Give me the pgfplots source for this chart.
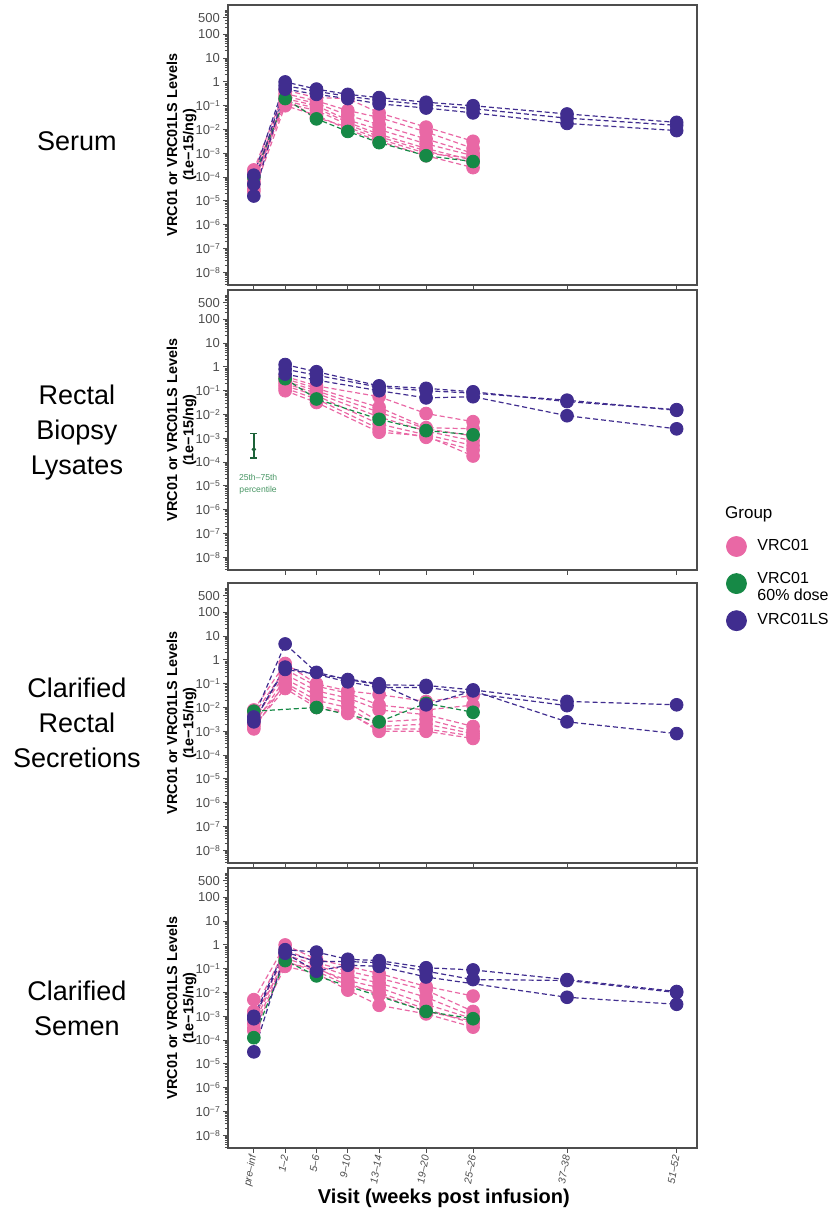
\documentclass[border=0pt]{standalone}
\usepackage{fontspec}
\setmainfont{Liberation Sans}
\usepackage{pgfplots}
\pgfplotsset{compat=1.18}
\usepackage{pgfplotstable}

\definecolor{vpink}{RGB}{233,104,165}
\definecolor{vgreen}{RGB}{22,137,70}
\definecolor{vpurple}{RGB}{64,45,143}
\definecolor{errgreen}{RGB}{28,98,56}
\definecolor{notegreen}{RGB}{72,150,100}
\definecolor{axisgrey}{RGB}{77,77,77}

\newcommand\tp[1]{10\raisebox{0.55ex}{\fontsize{4.3}{5}\selectfont −#1}}

% serum
\pgfplotstableread{
x     k1      k2      k3      k4      k5      k6      k7      k8      gr      p1      p2      p3
-2.5  2.0e-4  1.0e-4  5.0e-5  3.2e-5  1.6e-4  6.3e-5  2.5e-5  7.9e-5  1.0e-4  1.2e-4  5.0e-5  1.6e-5
1.5   0.45    0.32    0.25    0.2     0.16    0.126   0.1     0.18    0.2     1.0     0.7     0.5
5.5   0.22    0.16    0.126   0.1     0.079   0.063   0.04    0.032   0.028   0.5     0.4     0.3
9.5   0.2     0.063   0.04    0.025   0.02    0.016   0.01    0.0126  0.0083  0.3     0.25    0.2
13.5  0.05    0.032   0.016   0.01    0.0063  0.005   0.0032  0.004   0.0028  0.22    0.17    0.12
19.5  0.0126  0.0079  0.004   0.0025  0.0016  0.00126 0.00079 0.001   0.00079 0.14    0.11    0.08
25.5  0.0032  0.0016  0.001   0.00079 0.0005  0.0004  0.00025 0.00063 0.00045 0.1     0.075   0.05
37.5  nan     nan     nan     nan     nan     nan     nan     nan     nan     0.045   0.03    0.018
51.5  nan     nan     nan     nan     nan     nan     nan     nan     nan     0.02    0.015   0.009
}\serum

% rectal biopsy lysates
\pgfplotstableread{
x     k1      k2      k3      k4      k5      k6      k7      gr      p1      p2      p3
1.5   0.4     0.32    0.25    0.2     0.16    0.126   0.1     0.32    1.26    0.8     0.5
5.5   0.16    0.126   0.1     0.079   0.063   0.045   0.032   0.045   0.63    0.45    0.28
13.5  0.056   0.02    0.0126  0.0079  0.004   0.0025  0.0018  0.0063  0.16    0.14    0.1
19.5  0.011   0.0028  0.0025  0.002   0.0014  0.0011  0.00126 0.0021  0.126   0.1     0.05
25.5  0.005   0.0025  0.00126 0.00079 0.0005  0.00032 0.00018 0.0014  0.09    0.079   0.056
37.5  nan     nan     nan     nan     nan     nan     nan     nan     0.035   0.04    0.0089
51.5  nan     nan     nan     nan     nan     nan     nan     nan     0.016   0.015   0.0025
}\biopsy

% clarified rectal secretions
\pgfplotstableread{
x     k1      k2      k3      k4      k5      k6      k7      gr      p1      p2      p3
-2.5  7.9e-3  5.0e-3  3.2e-3  2.0e-3  1.26e-3 2.5e-3  1.6e-3  7.0e-3  4.0e-3  2.5e-3  3.0e-3
1.5   0.71    0.4     0.25    0.16    0.11    0.089   0.063   nan     4.7     0.5     0.4
5.5   0.1     0.079   0.05    0.032   0.02    0.0126  0.01    0.01    0.3     nan     nan
9.5   0.05    0.04    0.025   0.016   0.01    0.0063  0.0056  nan     0.15    0.12    nan
13.5  0.035   0.0126  0.0079  0.0025  0.0016  0.001   0.00126 0.0025  0.09    0.07    0.1
19.5  0.018   0.0079  0.005   0.0032  0.002   0.001   0.00126 0.015   0.085   0.07    0.013
25.5  0.032   0.0126  0.0016  0.001   0.00079 0.0005  0.00063 0.0063  0.055   nan     0.05
37.5  nan     nan     nan     nan     nan     nan     nan     nan     0.018   0.012   0.0025
51.5  nan     nan     nan     nan     nan     nan     nan     nan     0.013   nan     0.0008
}\secretions

% clarified semen
\pgfplotstableread{
x     k1      k2      k3      k4      k5      k6      k7      gr      p1      p2      p3
-2.5  5.0e-3  1.6e-3  7.9e-4  5.0e-4  3.2e-4  2.5e-4  1.0e-3  1.26e-4 1.0e-3  7.9e-4  3.2e-5
1.5   1.0     0.63    0.4     0.28    0.2     0.126   0.16    0.22    0.63    0.5     0.45
5.5   0.25    0.18    0.14    0.1     0.079   0.063   0.11    0.05    0.5     0.2     0.079
9.5   0.126   0.079   0.05    0.032   0.02    0.0126  0.025   nan     0.25    0.2     0.14
13.5  0.063   0.04    0.025   0.016   0.01    0.0029  0.0079  nan     0.22    0.18    0.126
19.5  0.018   0.0126  0.0063  0.0032  0.002   0.00126 0.0016  0.0016  0.11    0.079   0.045
25.5  0.0071  0.0016  0.001   0.00079 0.0005  0.00035 0.00063 0.00079 0.089   0.035   nan
37.5  nan     nan     nan     nan     nan     nan     nan     nan     0.035   0.032   0.0063
51.5  nan     nan     nan     nan     nan     nan     nan     nan     0.011   0.01    0.0032
}\semen

\begin{document}
\begin{tikzpicture}
\path[use as bounding box] (0,0) rectangle (419pt,-606pt);

% ---------------- Serum
\begin{axis}[at={(114pt,-2.5pt)}, anchor=north west,
  scale only axis, width=234.5pt, height=140pt,
  ymode=log, ymin=2.9e-9, ymax=1713, xmin=-5.8, xmax=54.1,
  ytick={1e-8,1e-7,1e-6,1e-5,1e-4,1e-3,1e-2,1e-1,1,10,100,500},
  yticklabels={\tp8,\tp7,\tp6,\tp5,\tp4,\tp3,\tp2,\tp1,1,10,100,500},
  minor ytick={3e-9,4e-9,5e-9,6e-9,7e-9,8e-9,9e-9,2e-8,3e-8,4e-8,5e-8,6e-8,7e-8,8e-8,9e-8,2e-7,3e-7,4e-7,5e-7,6e-7,7e-7,8e-7,9e-7,2e-6,3e-6,4e-6,5e-6,6e-6,7e-6,8e-6,9e-6,2e-5,3e-5,4e-5,5e-5,6e-5,7e-5,8e-5,9e-5,2e-4,3e-4,4e-4,5e-4,6e-4,7e-4,8e-4,9e-4,2e-3,3e-3,4e-3,5e-3,6e-3,7e-3,8e-3,9e-3,0.02,0.03,0.04,0.05,0.06,0.07,0.08,0.09,0.2,0.3,0.4,0.5,0.6,0.7,0.8,0.9,2,3,4,5,6,7,8,9,20,30,40,50,60,70,80,90,200,300,400,600,700,800,900,1000},
  xtick={-2.5,1.5,5.5,9.5,13.5,19.5,25.5,37.5,51.5}, xticklabels={},
  tick align=outside, tick pos=left, major tick length=2.4pt, minor tick length=1.6pt,
  tick style={axisgrey, line width=0.5pt}, axis line style={axisgrey, line width=0.75pt},
  yticklabel style={font=\fontsize{6.5}{7}\selectfont, text=axisgrey, inner sep=1pt, xshift=-0.5pt},
  ylabel={VRC01 or VRC01LS Levels\\(1e−15/ng)},
  ylabel style={at={(axis description cs:-0.099,0.5)}, anchor=center, align=center, font=\fontsize{7.2}{8.2}\selectfont\bfseries},
  clip=false]
\pgfplotsinvokeforeach{k1,k2,k3,k4,k5,k6,k7,k8}{\addplot[vpink, line width=0.6pt, dash pattern=on 2.5pt off 1.5pt, no marks, forget plot] table[x=x,y=#1]{\serum};}
\addplot[vgreen, line width=0.6pt, dash pattern=on 2.5pt off 1.5pt, no marks, forget plot] table[x=x,y=gr]{\serum};
\pgfplotsinvokeforeach{p1,p2,p3}{\addplot[vpurple, line width=0.6pt, dash pattern=on 2.5pt off 1.5pt, no marks, forget plot] table[x=x,y=#1]{\serum};}
\pgfplotsinvokeforeach{k1,k2,k3,k4,k5,k6,k7,k8}{\addplot[vpink, only marks, mark=*, mark size=3.2pt, forget plot] table[x=x,y=#1]{\serum};}
\addplot[vgreen, only marks, mark=*, mark size=3.2pt, forget plot] table[x=x,y=gr]{\serum};
\pgfplotsinvokeforeach{p1,p2,p3}{\addplot[vpurple, only marks, mark=*, mark size=3.2pt, forget plot] table[x=x,y=#1]{\serum};}
\node[font=\fontsize{13.5}{17.5}\selectfont, align=center] at (axis description cs:-0.322,0.512) {Serum};
\end{axis}

% ---------------- Rectal biopsy lysates
\begin{axis}[at={(114pt,-145pt)}, anchor=north west,
  scale only axis, width=234.5pt, height=140pt,
  ymode=log, ymin=2.9e-9, ymax=1713, xmin=-5.8, xmax=54.1,
  ytick={1e-8,1e-7,1e-6,1e-5,1e-4,1e-3,1e-2,1e-1,1,10,100,500},
  yticklabels={\tp8,\tp7,\tp6,\tp5,\tp4,\tp3,\tp2,\tp1,1,10,100,500},
  minor ytick={3e-9,4e-9,5e-9,6e-9,7e-9,8e-9,9e-9,2e-8,3e-8,4e-8,5e-8,6e-8,7e-8,8e-8,9e-8,2e-7,3e-7,4e-7,5e-7,6e-7,7e-7,8e-7,9e-7,2e-6,3e-6,4e-6,5e-6,6e-6,7e-6,8e-6,9e-6,2e-5,3e-5,4e-5,5e-5,6e-5,7e-5,8e-5,9e-5,2e-4,3e-4,4e-4,5e-4,6e-4,7e-4,8e-4,9e-4,2e-3,3e-3,4e-3,5e-3,6e-3,7e-3,8e-3,9e-3,0.02,0.03,0.04,0.05,0.06,0.07,0.08,0.09,0.2,0.3,0.4,0.5,0.6,0.7,0.8,0.9,2,3,4,5,6,7,8,9,20,30,40,50,60,70,80,90,200,300,400,600,700,800,900,1000},
  xtick={1.5,5.5,13.5,19.5,25.5,37.5,51.5}, xticklabels={},
  tick align=outside, tick pos=left, major tick length=2.4pt, minor tick length=1.6pt,
  tick style={axisgrey, line width=0.5pt}, axis line style={axisgrey, line width=0.75pt},
  yticklabel style={font=\fontsize{6.5}{7}\selectfont, text=axisgrey, inner sep=1pt, xshift=-0.5pt},
  ylabel={VRC01 or VRC01LS Levels\\(1e−15/ng)},
  ylabel style={at={(axis description cs:-0.099,0.5)}, anchor=center, align=center, font=\fontsize{7.2}{8.2}\selectfont\bfseries},
  clip=false,
  legend style={at={(axis description cs:1.062,0.125)}, anchor=north west, draw=none, fill=none,
    inner sep=0pt, row sep=5pt, column sep=3.5pt, font=\fontsize{8}{8.5}\selectfont},
  legend cell align=left]
\pgfplotsinvokeforeach{k1,k2,k3,k4,k5,k6,k7}{\addplot[vpink, line width=0.6pt, dash pattern=on 2.5pt off 1.5pt, no marks, forget plot] table[x=x,y=#1]{\biopsy};}
\addplot[vgreen, line width=0.6pt, dash pattern=on 2.5pt off 1.5pt, no marks, forget plot] table[x=x,y=gr]{\biopsy};
\pgfplotsinvokeforeach{p1,p2,p3}{\addplot[vpurple, line width=0.6pt, dash pattern=on 2.5pt off 1.5pt, no marks, forget plot] table[x=x,y=#1]{\biopsy};}
\pgfplotsinvokeforeach{k1,k2,k3,k4,k5,k6,k7}{\addplot[vpink, only marks, mark=*, mark size=3.2pt, forget plot] table[x=x,y=#1]{\biopsy};}
\addplot[vgreen, only marks, mark=*, mark size=3.2pt, forget plot] table[x=x,y=gr]{\biopsy};
\pgfplotsinvokeforeach{p1,p2,p3}{\addplot[vpurple, only marks, mark=*, mark size=3.2pt, forget plot] table[x=x,y=#1]{\biopsy};}
% 25th-75th percentile bar
\addplot[errgreen, line width=0.9pt, forget plot] coordinates {(-2.5,1.45e-4) (-2.5,1.6e-3)};
\addplot[errgreen, line width=0.9pt, forget plot] coordinates {(-2.95,1.6e-3) (-2.05,1.6e-3)};
\addplot[errgreen, line width=0.9pt, forget plot] coordinates {(-2.95,1.45e-4) (-2.05,1.45e-4)};
\addplot[errgreen, only marks, mark=*, mark size=0.9pt, forget plot] coordinates {(-2.5,3.4e-4)};
\node[font=\fontsize{4.3}{6}\selectfont, text=notegreen, align=center] at (axis cs:-1.95,1.2e-5) {25th–75th\\percentile};
\addlegendimage{only marks, mark=*, mark size=5pt, vpink}
\addlegendentry{VRC01}
\addlegendimage{only marks, mark=*, mark size=5pt, vgreen}
\addlegendentry{{\begin{tabular}{@{}l@{}}VRC01\\60\% dose\end{tabular}}}
\addlegendimage{only marks, mark=*, mark size=5pt, vpurple}
\addlegendentry{VRC01LS}
\node[anchor=west, font=\fontsize{8.5}{10}\selectfont] at (axis description cs:1.045,0.2) {Group};
\node[font=\fontsize{13.5}{17.5}\selectfont, align=center] at (axis description cs:-0.322,0.49) {Rectal\\Biopsy\\Lysates};
\end{axis}

% ---------------- Clarified rectal secretions
\begin{axis}[at={(114pt,-291.5pt)}, anchor=north west,
  scale only axis, width=234.5pt, height=140pt,
  ymode=log, ymin=2.9e-9, ymax=1713, xmin=-5.8, xmax=54.1,
  ytick={1e-8,1e-7,1e-6,1e-5,1e-4,1e-3,1e-2,1e-1,1,10,100,500},
  yticklabels={\tp8,\tp7,\tp6,\tp5,\tp4,\tp3,\tp2,\tp1,1,10,100,500},
  minor ytick={3e-9,4e-9,5e-9,6e-9,7e-9,8e-9,9e-9,2e-8,3e-8,4e-8,5e-8,6e-8,7e-8,8e-8,9e-8,2e-7,3e-7,4e-7,5e-7,6e-7,7e-7,8e-7,9e-7,2e-6,3e-6,4e-6,5e-6,6e-6,7e-6,8e-6,9e-6,2e-5,3e-5,4e-5,5e-5,6e-5,7e-5,8e-5,9e-5,2e-4,3e-4,4e-4,5e-4,6e-4,7e-4,8e-4,9e-4,2e-3,3e-3,4e-3,5e-3,6e-3,7e-3,8e-3,9e-3,0.02,0.03,0.04,0.05,0.06,0.07,0.08,0.09,0.2,0.3,0.4,0.5,0.6,0.7,0.8,0.9,2,3,4,5,6,7,8,9,20,30,40,50,60,70,80,90,200,300,400,600,700,800,900,1000},
  xtick={-2.5,1.5,5.5,9.5,13.5,19.5,25.5,37.5,51.5}, xticklabels={},
  tick align=outside, tick pos=left, major tick length=2.4pt, minor tick length=1.6pt,
  tick style={axisgrey, line width=0.5pt}, axis line style={axisgrey, line width=0.75pt},
  yticklabel style={font=\fontsize{6.5}{7}\selectfont, text=axisgrey, inner sep=1pt, xshift=-0.5pt},
  ylabel={VRC01 or VRC01LS Levels\\(1e−15/ng)},
  ylabel style={at={(axis description cs:-0.099,0.5)}, anchor=center, align=center, font=\fontsize{7.2}{8.2}\selectfont\bfseries},
  clip=false]
\pgfplotsinvokeforeach{k1,k2,k3,k4,k5,k6,k7}{\addplot[vpink, line width=0.6pt, dash pattern=on 2.5pt off 1.5pt, no marks, forget plot] table[x=x,y=#1]{\secretions};}
\addplot[vgreen, line width=0.6pt, dash pattern=on 2.5pt off 1.5pt, no marks, forget plot] table[x=x,y=gr]{\secretions};
\pgfplotsinvokeforeach{p1,p2,p3}{\addplot[vpurple, line width=0.6pt, dash pattern=on 2.5pt off 1.5pt, no marks, forget plot] table[x=x,y=#1]{\secretions};}
\pgfplotsinvokeforeach{k1,k2,k3,k4,k5,k6,k7}{\addplot[vpink, only marks, mark=*, mark size=3.2pt, forget plot] table[x=x,y=#1]{\secretions};}
\addplot[vgreen, only marks, mark=*, mark size=3.2pt, forget plot] table[x=x,y=gr]{\secretions};
\pgfplotsinvokeforeach{p1,p2,p3}{\addplot[vpurple, only marks, mark=*, mark size=3.2pt, forget plot] table[x=x,y=#1]{\secretions};}
\node[font=\fontsize{13.5}{17.5}\selectfont, align=center] at (axis description cs:-0.322,0.5) {Clarified\\Rectal\\Secretions};
\end{axis}

% ---------------- Clarified semen
\begin{axis}[at={(114pt,-434pt)}, anchor=north west,
  scale only axis, width=234.5pt, height=140pt,
  ymode=log, ymin=2.9e-9, ymax=1713, xmin=-5.8, xmax=54.1,
  ytick={1e-8,1e-7,1e-6,1e-5,1e-4,1e-3,1e-2,1e-1,1,10,100,500},
  yticklabels={\tp8,\tp7,\tp6,\tp5,\tp4,\tp3,\tp2,\tp1,1,10,100,500},
  minor ytick={3e-9,4e-9,5e-9,6e-9,7e-9,8e-9,9e-9,2e-8,3e-8,4e-8,5e-8,6e-8,7e-8,8e-8,9e-8,2e-7,3e-7,4e-7,5e-7,6e-7,7e-7,8e-7,9e-7,2e-6,3e-6,4e-6,5e-6,6e-6,7e-6,8e-6,9e-6,2e-5,3e-5,4e-5,5e-5,6e-5,7e-5,8e-5,9e-5,2e-4,3e-4,4e-4,5e-4,6e-4,7e-4,8e-4,9e-4,2e-3,3e-3,4e-3,5e-3,6e-3,7e-3,8e-3,9e-3,0.02,0.03,0.04,0.05,0.06,0.07,0.08,0.09,0.2,0.3,0.4,0.5,0.6,0.7,0.8,0.9,2,3,4,5,6,7,8,9,20,30,40,50,60,70,80,90,200,300,400,600,700,800,900,1000},
  xtick={-2.5,1.5,5.5,9.5,13.5,19.5,25.5,37.5,51.5},
  xticklabels={pre–inf,1–2,5–6,9–10,13–14,19–20,25–26,37–38,51–52},
  xticklabel style={rotate=80, anchor=east, font=\fontsize{5.2}{6}\selectfont\itshape, text=axisgrey, inner sep=1pt},
  tick align=outside, tick pos=left, major tick length=2.4pt, minor tick length=1.6pt,
  tick style={axisgrey, line width=0.5pt}, axis line style={axisgrey, line width=0.75pt},
  yticklabel style={font=\fontsize{6.5}{7}\selectfont, text=axisgrey, inner sep=1pt, xshift=-0.5pt},
  ylabel={VRC01 or VRC01LS Levels\\(1e−15/ng)},
  ylabel style={at={(axis description cs:-0.099,0.5)}, anchor=center, align=center, font=\fontsize{7.2}{8.2}\selectfont\bfseries},
  xlabel={Visit (weeks post infusion)},
  xlabel style={at={(axis description cs:0.46,-0.178)}, anchor=center, font=\fontsize{10}{12}\selectfont\bfseries},
  clip=false]
\pgfplotsinvokeforeach{k1,k2,k3,k4,k5,k6,k7}{\addplot[vpink, line width=0.6pt, dash pattern=on 2.5pt off 1.5pt, no marks, forget plot] table[x=x,y=#1]{\semen};}
\addplot[vgreen, line width=0.6pt, dash pattern=on 2.5pt off 1.5pt, no marks, forget plot] table[x=x,y=gr]{\semen};
\pgfplotsinvokeforeach{p1,p2,p3}{\addplot[vpurple, line width=0.6pt, dash pattern=on 2.5pt off 1.5pt, no marks, forget plot] table[x=x,y=#1]{\semen};}
\pgfplotsinvokeforeach{k1,k2,k3,k4,k5,k6,k7}{\addplot[vpink, only marks, mark=*, mark size=3.2pt, forget plot] table[x=x,y=#1]{\semen};}
\addplot[vgreen, only marks, mark=*, mark size=3.2pt, forget plot] table[x=x,y=gr]{\semen};
\pgfplotsinvokeforeach{p1,p2,p3}{\addplot[vpurple, only marks, mark=*, mark size=3.2pt, forget plot] table[x=x,y=#1]{\semen};}
\node[font=\fontsize{13.5}{17.5}\selectfont, align=center] at (axis description cs:-0.322,0.5) {Clarified\\Semen};
\end{axis}
\end{tikzpicture}
\end{document}
